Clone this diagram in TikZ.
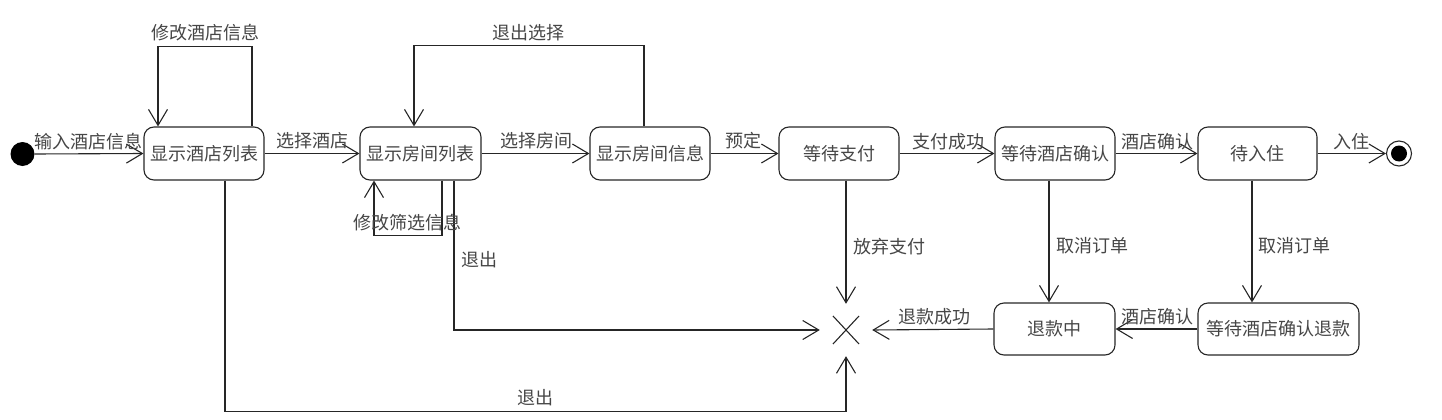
\documentclass[tikz,border=0pt]{standalone}
\usepackage{fontspec}
\newfontfamily\cjk{Noto Sans CJK SC}
\usetikzlibrary{arrows.meta,calc}
\definecolor{txt}{RGB}{70,70,70}
\begin{document}
\begin{tikzpicture}[x=1pt,y=-1pt,
  every node/.style={font=\cjk\fontsize{18}{20}\selectfont, text=txt},
  state/.style={draw=black!85, line width=1.1pt, rounded corners=10pt, minimum height=53pt, inner sep=0pt},
  lbl/.style={inner sep=0pt},
  conn/.style={draw=black!85, line width=1.1pt, -{Straight Barb[length=16pt,width=19pt,line width=1.1pt]}},
  plain/.style={draw=black!85, line width=1.1pt}]
\useasboundingbox (0,0) rectangle (1442,420);

% initial and final
\node[circle, fill=black, minimum size=24pt, inner sep=0pt] (init) at (22.5,154) {};
\node[circle, draw=black!85, line width=1.1pt, fill=white, minimum size=25pt, inner sep=0pt] (final) at (1399,153.5) {};
\fill[black] (final.center) circle (8pt);

% states
\node[state, minimum width=120pt] (A) at (204,153.5) {显示酒店列表};
\node[state, minimum width=121pt] (B) at (420.5,153.5) {显示房间列表};
\node[state, minimum width=120pt] (C) at (650,153.5) {显示房间信息};
\node[state, minimum width=120pt] (D) at (839,153.5) {等待支付};
\node[state, minimum width=120pt] (E) at (1055,153.5) {等待酒店确认};
\node[state, minimum width=119pt] (F) at (1257.5,153.5) {待入住};
\node[state, minimum width=121pt, minimum height=52pt] (G) at (1054.5,329) {退款中};
\node[state, minimum width=161pt, minimum height=52pt] (H) at (1278.5,329) {等待酒店确认退款};

% terminate cross
\node[minimum size=52pt, inner sep=0pt] (X) at (846,330) {};
\draw[plain] ([shift={(-13pt,-14pt)}]X.center) -- ([shift={(13pt,14pt)}]X.center);
\draw[plain] ([shift={(-13pt,14pt)}]X.center) -- ([shift={(13pt,-14pt)}]X.center);

% connectors
\draw[conn] (init.east) -- (A.west);
\draw[conn] ([xshift=48pt]A.north) -- ++(0,-80) -| ([xshift=-46pt]A.north);
\draw[conn] (A.east) -- (B.west);
\draw[conn] ([xshift=21.5pt]B.south) -- ++(0,55) -| ([xshift=-46.5pt]B.south);
\draw[conn] (B.east) -- (C.west);
\draw[conn] ([xshift=-6pt]C.north) -- ++(0,-81) -| ([xshift=-6.5pt]B.north);
\draw[conn] (C.east) -- (D.west);
\draw[conn] (D.east) -- (E.west);
\draw[conn] (E.east) -- (F.west);
\draw[conn] (F.east) -- (final.west);
\draw[conn] ([xshift=7pt]D.south) -- (X.north);
\draw[conn] ([xshift=-6pt]E.south) -- ([xshift=-5.5pt]G.north);
\draw[conn] ([xshift=-5.5pt]F.south) -- ([xshift=-26.5pt]H.north);
\draw[conn] (H.west) -- (G.east);
\draw[conn] (G.west) -- (X.east);
\draw[conn] ([xshift=33.5pt]B.south) |- (X.west);
\draw[conn] ([xshift=21pt]A.south) -- ++(0,231) -| (X.south);

% labels
\node[lbl] (l1) at (205,33) {修改酒店信息};
\node[lbl] (l2) at (88,142) {输入酒店信息};
\node[lbl] (l3) at (312,141) {选择酒店};
\node[lbl] (l4) at (407,223) {修改筛选信息};
\node[lbl] (l5) at (528,33) {退出选择};
\node[lbl] (l6) at (536,141) {选择房间};
\node[lbl] (l7) at (743,141) {预定};
\node[lbl] (l8) at (948,142) {支付成功};
\node[lbl] (l9) at (1157,142) {酒店确认};
\node[lbl] (l10) at (1351,142) {入住};
\node[lbl] (l11) at (889,247) {放弃支付};
\node[lbl] (l12) at (1092,246) {取消订单};
\node[lbl] (l13) at (1294,246) {取消订单};
\node[lbl] (l14) at (479,260) {退出};
\node[lbl] (l15) at (535,398) {退出};
\node[lbl] (l16) at (934,317) {退款成功};
\node[lbl] (l17) at (1157,317) {酒店确认};
\end{tikzpicture}
\end{document}
